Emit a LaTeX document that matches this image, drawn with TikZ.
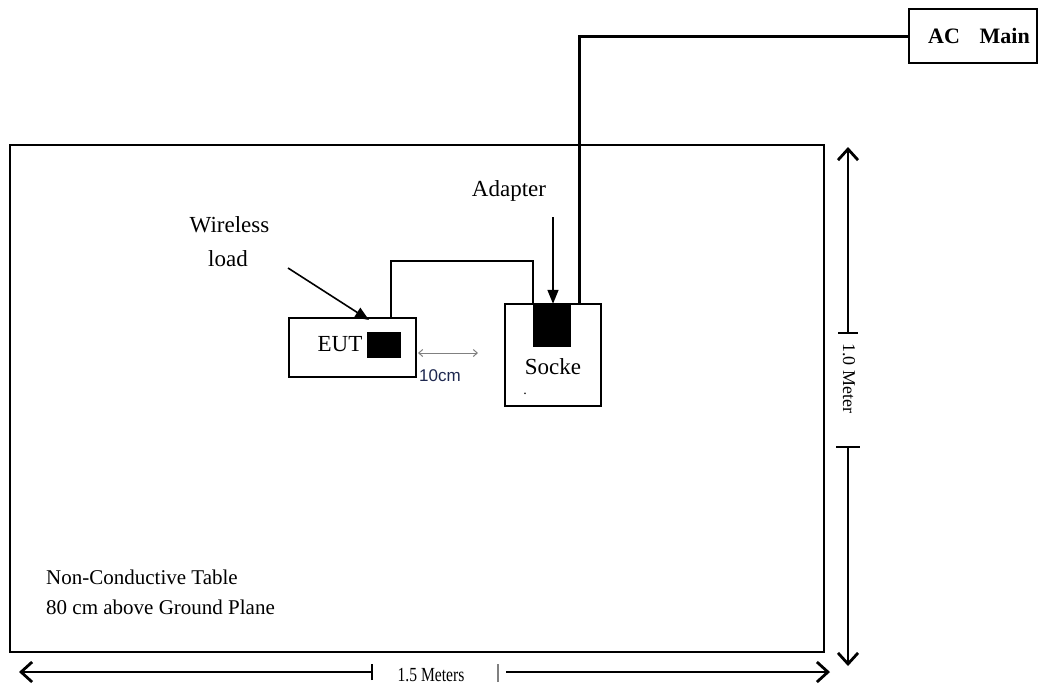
\documentclass[tikz,border=0pt]{standalone}
\usepackage{fontspec}
\setmainfont{Liberation Serif}
\newfontfamily\labsans{Liberation Sans}
\usetikzlibrary{arrows.meta}
\definecolor{navy}{RGB}{30,40,80}
\begin{document}
\begin{tikzpicture}[x=1pt,y=-1pt,
  boxshape/.style={draw,line width=2pt,inner sep=0pt},
  blk/.style={fill=black,draw=none,inner sep=0pt},
  lab/.style={inner sep=0pt,font=\fontsize{23}{26}\selectfont},
  small/.style={inner sep=0pt,font=\fontsize{21}{24}\selectfont},
  wire/.style={line width=2pt},
  dimline/.style={line width=1.2pt},
  dimtip/.style={-{Straight Barb[length=11pt,width=20pt,line width=2.8pt]}},
  pointer/.style={line width=1.6pt,-{Triangle[length=14pt,width=11pt]}},
]
\useasboundingbox (0,0) rectangle (1038,689);
% table
\node[boxshape,line width=2.5pt,minimum width=814pt,minimum height=507pt] (table) at (417,398.5) {};
% EUT
\node[boxshape,minimum width=127pt,minimum height=59pt] (eut) at (352.5,347.5) {};
\node[lab] (eutlab) at (340,344) {EUT};
\node[blk,minimum width=34pt,minimum height=26pt] (eutblk) at (384,345) {};
% socket
\node[boxshape,minimum width=96pt,minimum height=102pt] (socket) at (553,355) {};
\node[blk,minimum width=38pt,minimum height=43pt] (sockblk) at (552,325.5) {};
\node[lab] (socklab) at (553,367) {Socke};
\node[inner sep=0pt,font=\fontsize{14}{16}\selectfont] (sockdot) at (525,394) {.};
% AC main
\node[boxshape,minimum width=128pt,minimum height=54pt] (acbox) at (973,36) {};
\node[inner sep=0pt,font=\fontsize{22}{26}\selectfont\bfseries] (aclab) at (979,36) {AC\hspace{0.9em}Main};
% wires
\coordinate (w1) at (391,261);
\coordinate (w2) at (533,261);
\draw[wire] (w1 |- eut.north) -- (w1) -- (w2) -- (w2 |- sockblk.north);
\coordinate (a1) at (579,36);
\draw[wire,line width=3pt] (a1 |- socket.north) -- (a1) -- (acbox.west);
% adapter
\node[lab] (adapt) at (509,191) {Adapter};
\coordinate (adtail) at (553,217);
\draw[pointer] (adtail) -- (adtail |- sockblk.north);
% wireless load
\node[lab] (wl1) at (229.5,225) {Wireless};
\node[lab] (wl2) at (228,259) {load};
\coordinate (wltail) at (288,268);
\coordinate (wlhead) at (369,320);
\draw[pointer] (wltail) -- (wlhead);
% 10cm
\coordinate (tc1) at (418,353);
\coordinate (tc2) at (478,353);
\draw[gray,line width=1pt,{Straight Barb[length=4pt,width=7pt]}-{Straight Barb[length=4pt,width=7pt]}] (tc1) -- (tc2);
\node[inner sep=0pt,font=\labsans\fontsize{17}{20}\selectfont,text=navy] (tencm) at (440,376) {10cm};
% vertical dimension
\coordinate (vt) at (848,147);
\coordinate (vk1) at (848,333);
\coordinate (vk2) at (848,447);
\coordinate (vb) at (848,666);
\draw[dimline,dimtip] (vk1) -- (vt);
\draw[dimline] ([xshift=-10pt]vk1) -- ([xshift=10pt]vk1);
\draw[dimline] ([xshift=-12pt]vk2) -- ([xshift=12pt]vk2);
\draw[dimline,dimtip] (vk2) -- (vb);
\node[inner sep=0pt,rotate=-90,font=\fontsize{18}{20}\selectfont] (vlab) at (849,378) {1.0 Meter};
% horizontal dimension
\coordinate (hl) at (19,672);
\coordinate (hk1) at (372,672);
\coordinate (hk2) at (498,673);
\coordinate (hr) at (830,672);
\draw[dimline,dimtip] (hk1) -- (hl);
\draw[dimline] ([yshift=-8pt]hk1) -- ([yshift=8pt]hk1);
\draw[gray,line width=2pt] ([yshift=-9pt]hk2) -- ([yshift=9pt]hk2);
\draw[dimline,dimtip] ([xshift=8pt]hk2 |- hr) -- (hr);
\node[inner sep=0pt,font=\fontsize{20}{22}\selectfont] (hlab) at (431,675) {\scalebox{0.78}[1]{1.5 Meters}};
% table label
\node[small,anchor=west] (t1) at (46,577) {Non-Conductive Table};
\node[small,anchor=west] (t2) at (46,607) {80 cm above Ground Plane};
\end{tikzpicture}
\end{document}
